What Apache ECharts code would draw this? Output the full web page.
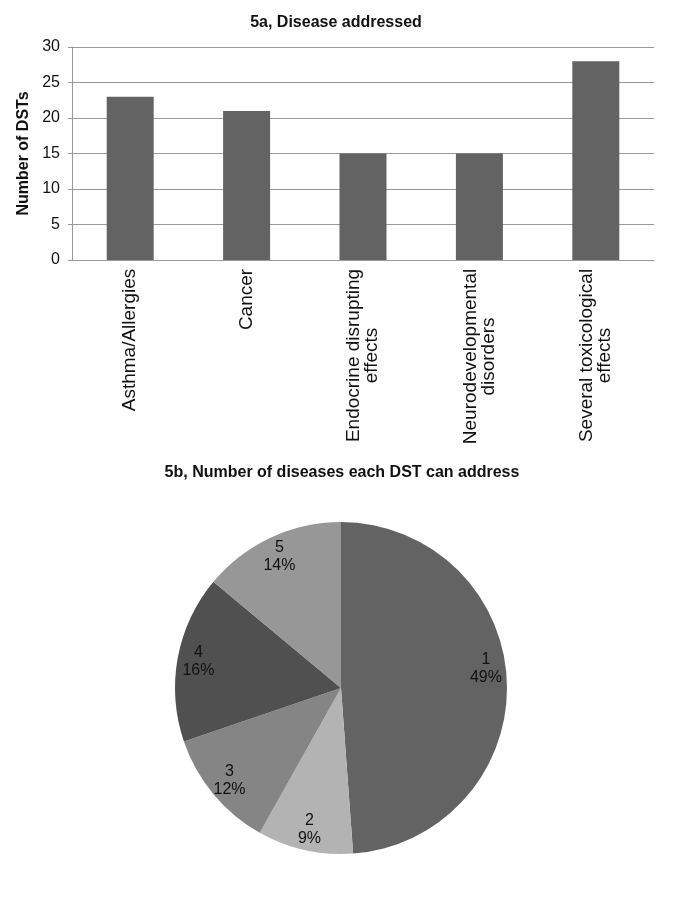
<!DOCTYPE html>
<html>
<head>
<meta charset="utf-8">
<script src="https://cdn.jsdelivr.net/npm/echarts@6/dist/echarts.min.js"></script>
<style>
html,body{margin:0;padding:0;background:#fff;}
#chart{width:685px;height:915px;}
</style>
</head>
<body>
<div id="chart"></div>
<script>
// ---- data ----
const barTitle = '5a, Disease addressed';
const barCategories = ['Asthma/Allergies', 'Cancer', 'Endocrine disrupting\neffects', 'Neurodevelopmental\ndisorders', 'Several toxicological\neffects'];
const barValues = [23, 21, 15, 15, 28];
const yAxisName = 'Number of DSTs';
const yTicks = [0, 5, 10, 15, 20, 25, 30];

const pieTitle = '5b, Number of diseases each DST can address';
const pieNames = ['1', '2', '3', '4', '5'];
const pieValues = [21, 4, 5, 7, 6];
const pieColors = ['#636363', '#b3b3b3', '#858585', '#505050', '#979797'];

// ---- chart ----
const FONT = '"Liberation Sans", Arial, Helvetica, sans-serif';
const xLabelSize = 19;
const ctx = document.createElement('canvas').getContext('2d');
ctx.font = xLabelSize + 'px ' + FONT;
const rich = {};
barCategories.forEach((c, i) => {
  const w = Math.max(...c.split('\n').map(l => ctx.measureText(l).width));
  rich['c' + i] = { width: Math.ceil(w) + 1, align: 'center', fontSize: xLabelSize, fontFamily: FONT, color: '#111', lineHeight: 18 };
});

const chart = echarts.init(document.getElementById('chart'), null, { renderer: 'canvas' });
chart.setOption({
  animation: false,
  backgroundColor: '#fff',
  title: [
    { text: barTitle, left: 331, top: 10, textAlign: 'center',
      textStyle: { fontFamily: FONT, fontSize: 16, fontWeight: 'bold', color: '#111' } },
    { text: pieTitle, left: 337, top: 460, textAlign: 'center',
      textStyle: { fontFamily: FONT, fontSize: 16, fontWeight: 'bold', color: '#111' } }
  ],
  grid: { left: 72, right: 31, top: 47, height: 213 },
  xAxis: {
    type: 'category',
    data: barCategories,
    axisLine: { show: true, lineStyle: { color: '#9a9a9a', width: 1 } },
    axisTick: { show: false },
    axisLabel: {
      rotate: 90, interval: 0, margin: 8,
      formatter: (v, i) => v.split('\n').map(l => '{c' + i + '|' + l + '}').join('\n'),
      rich: rich
    }
  },
  yAxis: {
    type: 'value', min: yTicks[0], max: yTicks[yTicks.length - 1], interval: 5,
    name: yAxisName, nameLocation: 'middle', nameRotate: 90, nameGap: 28,
    nameTextStyle: { fontFamily: FONT, fontSize: 16, fontWeight: 'bold', color: '#111' },
    axisLine: { show: true, lineStyle: { color: '#9a9a9a', width: 1 } },
    axisTick: { show: true, length: 4, lineStyle: { color: '#9a9a9a' } },
    axisLabel: { fontFamily: FONT, fontSize: 16, color: '#111', margin: 12 },
    splitLine: { show: true, lineStyle: { color: '#9a9a9a', width: 1 } }
  },
  series: [
    {
      type: 'bar', data: barValues, barWidth: 47,
      itemStyle: { color: '#636363' }
    },
    {
      type: 'pie', center: [341, 688], radius: [0, 166], startAngle: 90, clockwise: true,
      label: { show: false }, labelLine: { show: false }, silent: true,
      data: pieNames.map((n, i) => ({ name: n, value: pieValues[i], itemStyle: { color: pieColors[i] } }))
    },
    {
      type: 'pie', center: [341, 688], radius: [118, 166], startAngle: 90, clockwise: true,
      percentPrecision: 0, silent: true,
      itemStyle: { color: 'rgba(0,0,0,0)' },
      labelLine: { show: false },
      label: { show: true, position: 'inside', formatter: '{b}\n{d}%', fontFamily: FONT, fontSize: 16, lineHeight: 18, color: '#111' },
      data: pieNames.map((n, i) => ({ name: n, value: pieValues[i], label: i === 0 ? { offset: [0, -14] } : {} }))
    }
  ]
});
</script>
</body>
</html>
